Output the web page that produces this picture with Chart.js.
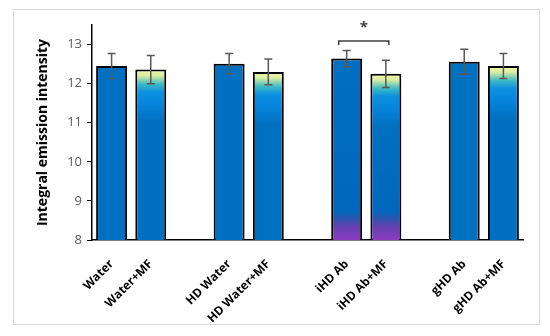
<!DOCTYPE html>
<html>
<head>
<meta charset="utf-8">
<script src="https://cdn.jsdelivr.net/npm/chart.js@4"></script>
<style>
  body { margin: 0; background: #fff; }
  #chart { display: block; }
</style>
</head>
<body>
<canvas id="chart" width="550" height="336"></canvas>
<script>
// categories (empty strings are the gaps between groups)
const labels = ['Water', 'Water+MF', '', 'HD Water', 'HD Water+MF', '', 'iHD Ab', 'iHD Ab+MF', '', 'gHD Ab', 'gHD Ab+MF'];
const means  = [12.45, 12.36, null, 12.51, 12.30, null, 12.64, 12.25, null, 12.56, 12.45];
const errors = [0.32, 0.36, null, 0.26, 0.33, null, 0.21, 0.35, null, 0.32, 0.32];
const yTicks = [8, 9, 10, 11, 12, 13];
// which fill each bar gets
const fills = ['blue', 'mf', null, 'blue', 'mf', null, 'ihd', 'ihdmf', null, 'blue', 'mf'];
// significance bracket between these two categories
const sigPair = ['iHD Ab', 'iHD Ab+MF'];

const ctx = document.getElementById('chart').getContext('2d');

function barFill(context) {
  const chart = context.chart;
  const kind = fills[context.dataIndex];
  const v = means[context.dataIndex];
  if (!chart.chartArea || v == null || kind === 'blue') return '#0070C0';
  const y = chart.scales.y;
  const top = y.getPixelForValue(v);
  const bot = y.getPixelForValue(y.min);
  const g = chart.ctx.createLinearGradient(0, top, 0, bot);
  const span = v - y.min;
  const stop = (val, col) => g.addColorStop(Math.min(1, Math.max(0, (v - val) / span)), col);
  if (kind === 'mf' || kind === 'ihdmf') {
    stop(v, '#F2F5A8');
    stop(v - 0.15, '#DCEEA2');
    stop(v - 0.38, '#3BB8C6');
    stop(v - 0.58, '#0C90E0');
    stop(v - 0.85, '#0686DD');
    stop(v - 1.35, '#0070C0');
  } else {
    stop(v, '#0070C0');
  }
  if (kind === 'ihd' || kind === 'ihdmf') {
    stop(8.75, '#0068BC');
    stop(8.55, '#2A56B0');
    stop(8.35, '#6240B0');
    stop(8.0, '#8A3CBE');
  } else {
    stop(8.0, '#0070C0');
  }
  return g;
}

const extras = {
  id: 'extras',
  beforeDraw(chart) {
    const c = chart.ctx;
    c.save();
    c.fillStyle = '#fff';
    c.fillRect(0, 0, chart.width, chart.height);
    c.strokeStyle = '#D9D9D9';
    c.lineWidth = 1;
    c.strokeRect(13.5, 9.5, 526, 315);
    c.restore();
  },
  afterDatasetsDraw(chart) {
    const c = chart.ctx;
    const x = chart.scales.x, y = chart.scales.y;
    c.save();
    c.strokeStyle = '#595959';
    c.lineWidth = 1.5;
    means.forEach((m, i) => {
      if (m == null) return;
      const px = x.getPixelForValue(i);
      const hi = y.getPixelForValue(m + errors[i]);
      const lo = y.getPixelForValue(m - errors[i]);
      c.beginPath();
      c.moveTo(px, hi); c.lineTo(px, lo);
      c.moveTo(px - 4, hi); c.lineTo(px + 4, hi);
      c.moveTo(px - 4, lo); c.lineTo(px + 4, lo);
      c.stroke();
    });
    // significance bracket
    const a = x.getPixelForValue(labels.indexOf(sigPair[0])) - 8;
    const b = x.getPixelForValue(labels.indexOf(sigPair[1])) + 3;
    const by = y.getPixelForValue(13.09);
    const bl = y.getPixelForValue(12.99);
    c.strokeStyle = '#404040';
    c.beginPath();
    c.moveTo(a, bl); c.lineTo(a, by); c.lineTo(b, by); c.lineTo(b, bl);
    c.stroke();
    c.fillStyle = '#404040';
    c.font = 'bold 15px "Open Sans"';
    c.textAlign = 'center';
    c.textBaseline = 'middle';
    c.fillText('*', (a + b) / 2, y.getPixelForValue(13.42));
    c.restore();
  }
};

const config = {
  type: 'bar',
  data: {
    labels: labels,
    datasets: [{
      data: means,
      backgroundColor: barFill,
      borderColor: '#000',
      borderWidth: 2,
      barPercentage: 0.79,
      categoryPercentage: 1.0,
    }],
  },
  options: {
    responsive: false,
    animation: false,
    layout: { padding: { top: 25, right: 27, left: 0, bottom: 0 } },
    plugins: { legend: { display: false }, tooltip: { enabled: false } },
    scales: {
      x: {
        grid: { display: false },
        border: { color: '#000', width: 1.5 },
        ticks: {
          color: '#000',
          font: { family: 'Open Sans', size: 12, weight: 'bold' },
          minRotation: 45, maxRotation: 45, autoSkip: false, padding: 9,
        },
        afterFit(scale) { scale.height = 96; },
      },
      y: {
        min: 8,
        max: 13.5,
        afterBuildTicks(scale) { scale.ticks = yTicks.map(v => ({ value: v })); },
        grid: { drawOnChartArea: false, drawTicks: true, tickLength: 5, color: '#000', lineWidth: 1 },
        border: { color: '#000', width: 1.5 },
        ticks: { color: '#595959', font: { family: 'Open Sans', size: 13 }, padding: 5 },
        title: {
          display: true,
          text: 'Integral emission intensity',
          color: '#000',
          font: { family: 'Open Sans', size: 14, weight: 'bold' },
          padding: { top: 35, bottom: 0 },
        },
        afterFit(scale) { scale.width = 92; },
      },
    },
  },
  plugins: [extras],
};

const chart = new Chart(ctx, config);
</script>
</body>
</html>
